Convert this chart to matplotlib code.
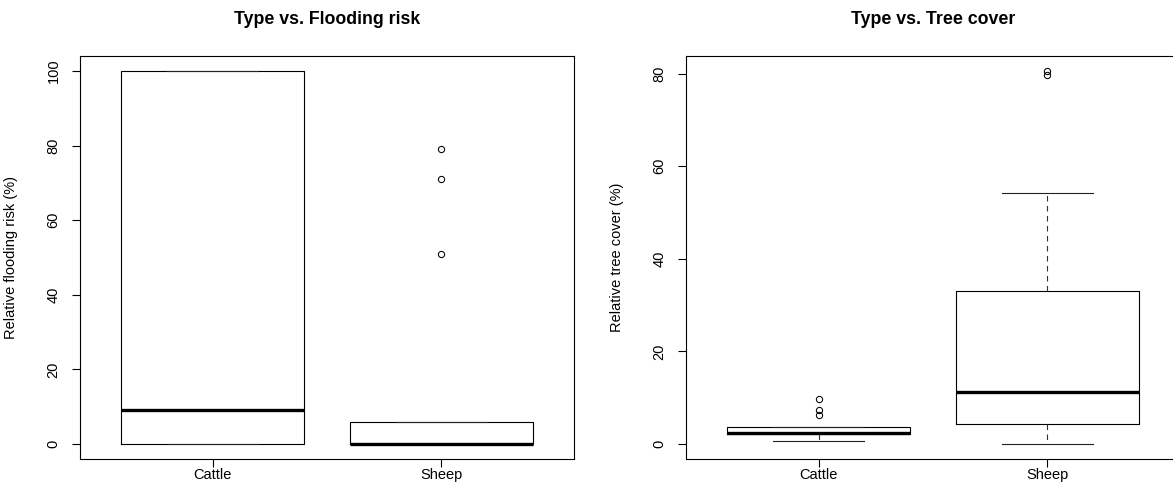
import matplotlib
matplotlib.use("Agg")
import matplotlib.pyplot as plt

plt.rcParams['font.family'] = ['Liberation Sans', 'DejaVu Sans']

categories = ["Cattle", "Sheep"]

# Panel 1: Flooding risk
flood_q1 = [0, 0]
flood_med = [9, 0]
flood_q3 = [100, 6]
flood_whislo = [0, 0]
flood_whishi = [100, 6]
flood_fliers = [[], [79, 71, 51]]

# Panel 2: Tree cover
tree_q1 = [2.1, 4.25]
tree_med = [2.5, 11.3]
tree_q3 = [3.6, 33.0]
tree_whislo = [0.7, 0]
tree_whishi = [3.6, 54.3]
tree_fliers = [[9.8, 7.3, 6.2], [80.6, 79.8]]

titles = ["Type vs. Flooding risk", "Type vs. Tree cover"]
ylabels = ["Relative flooding risk (%)", "Relative tree cover (%)"]
yticks = [[0, 20, 40, 60, 80, 100], [0, 20, 40, 60, 80]]


def make_stats(q1, med, q3, lo, hi, fl):
    out = []
    for i, lab in enumerate(categories):
        out.append(dict(label=lab, q1=q1[i], med=med[i], q3=q3[i],
                        whislo=lo[i], whishi=hi[i], fliers=fl[i]))
    return out


stats = [make_stats(flood_q1, flood_med, flood_q3, flood_whislo, flood_whishi, flood_fliers),
         make_stats(tree_q1, tree_med, tree_q3, tree_whislo, tree_whishi, tree_fliers)]

fig = plt.figure(figsize=(11.73, 4.95), dpi=100)
W, H = 1173, 495
ax_lefts = [80, 686]
axes_w = 494
ax_top, ax_bot = 56, 459

for k in range(2):
    ax = fig.add_axes([ax_lefts[k] / W, (H - ax_bot) / H, axes_w / W, (ax_bot - ax_top) / H])
    ax.bxp(stats[k], positions=[1, 2], widths=0.8, capwidths=0.4,
           boxprops=dict(color='black', linewidth=0.8),
           medianprops=dict(color='black', linewidth=2.4, solid_capstyle='butt'),
           whiskerprops=dict(color='#333333', linewidth=0.8, linestyle=(0, (5, 4))),
           capprops=dict(color='#222222', linewidth=0.8),
           flierprops=dict(marker='o', markerfacecolor='none', markeredgecolor='black',
                           markersize=4.5, markeredgewidth=0.75, linestyle='none'))
    ax.set_xlim(0.42, 2.58)
    vals = []
    for s in stats[k]:
        vals += [s['whislo'], s['whishi']] + list(s['fliers'])
    lo, hi = min(vals), max(vals)
    ext = 0.04 * (hi - lo)
    ax.set_ylim(lo - ext, hi + ext)
    ax.set_yticks(yticks[k])
    ax.set_xticks([1, 2])
    ax.set_xticklabels(categories)
    ax.tick_params(axis='both', direction='out', length=6, width=0.8, labelsize=10.5,
                   color='black')
    ax.tick_params(axis='y', pad=8)
    ax.tick_params(axis='x', pad=0.5)
    for lab in ax.get_yticklabels():
        lab.set_rotation(90)
        lab.set_va('center')
    for sp in ax.spines.values():
        sp.set_linewidth(0.8)
        sp.set_color('black')
    ax.set_ylabel(ylabels[k], fontsize=10.5)
    ax.yaxis.set_label_coords(-0.125, 0.5)
    ax.set_title(titles[k], fontsize=12.8, fontweight='bold', pad=23)

fig.savefig("out.png", dpi=100, facecolor='white')
